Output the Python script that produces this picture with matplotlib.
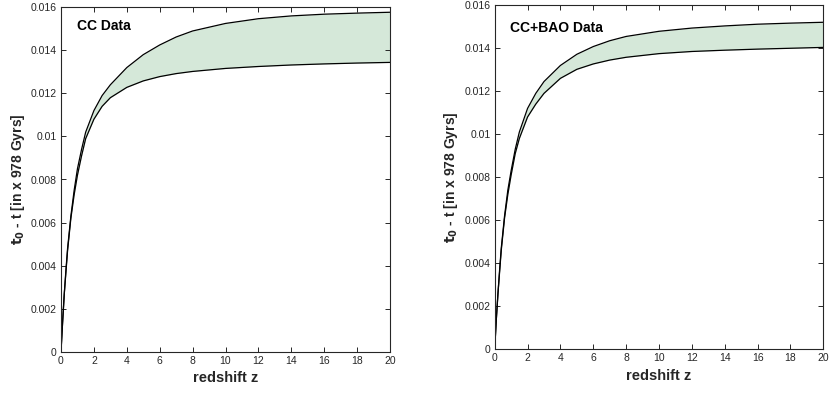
import numpy as np
import matplotlib
matplotlib.use("Agg")
from matplotlib import pyplot as plt

plt.rcParams['font.family'] = ['Liberation Sans', 'DejaVu Sans']

# redshift points and the band edges
z = [0, 0.1, 0.2, 0.3, 0.4, 0.6, 0.8, 1, 1.25, 1.5, 2, 2.5, 3, 4, 5, 6, 7, 8, 10, 12, 14, 16, 18, 20]

cc_upper = [0, 0.0014, 0.0027, 0.0038, 0.0048, 0.0063, 0.0075, 0.0085, 0.0094, 0.0102, 0.0112, 0.0119,
            0.0124, 0.0132, 0.0138, 0.01425, 0.01462, 0.0149, 0.01525, 0.01547, 0.0156, 0.01568,
            0.01573, 0.01577]
cc_lower = [0, 0.0014, 0.0027, 0.0037, 0.0047, 0.0062, 0.0073, 0.0082, 0.0091, 0.0099, 0.0108, 0.0114,
            0.0118, 0.01228, 0.01258, 0.01278, 0.01292, 0.01302, 0.01316, 0.01325, 0.01332, 0.01337,
            0.01341, 0.01344]

bao_upper = [0, 0.0014, 0.0026, 0.0037, 0.0047, 0.0062, 0.0074, 0.0083, 0.0093, 0.0101, 0.0112, 0.0119,
             0.01245, 0.0132, 0.01372, 0.01408, 0.01435, 0.01455, 0.01479, 0.01494, 0.01504, 0.01512,
             0.01517, 0.01521]
bao_lower = [0, 0.0014, 0.0026, 0.0036, 0.0046, 0.0061, 0.0072, 0.0081, 0.0091, 0.0098, 0.0108, 0.0114,
             0.0119, 0.0126, 0.01302, 0.01327, 0.01345, 0.01358, 0.01375, 0.01385, 0.01391, 0.01396,
             0.014, 0.01404]

panels = [
    ("CC Data", cc_upper, cc_lower, [61 / 832, 44.3 / 396, 329 / 832, 344.4 / 396], 0.01513),
    ("CC+BAO Data", bao_upper, bao_lower, [494.7 / 832, 47 / 396, 328.6 / 832, 343.7 / 396], 0.01494),
]

fig = plt.figure(figsize=(8.32, 3.96), dpi=100)
edge = '#262626'

for title, up, lo, rect, ty in panels:
    ax = fig.add_axes(rect)
    ax.fill_between(z, lo, up, color='#d5e8d9', linewidth=0)
    ax.plot(z, up, color='black', linewidth=0.9)
    ax.plot(z, lo, color='black', linewidth=0.9)
    ax.set_xlim(0, 20)
    ax.set_ylim(0, 0.016)
    ax.set_xticks(np.arange(0, 21, 2))
    ax.set_yticks(np.arange(0, 0.0161, 0.002))
    ax.set_yticklabels(['0', '0.002', '0.004', '0.006', '0.008', '0.01', '0.012', '0.014', '0.016'])
    ax.tick_params(direction='in', top=True, right=True, length=3.5, width=0.7,
                   labelsize=7.5, colors=edge, pad=3)
    for s in ax.spines.values():
        s.set_color(edge)
        s.set_linewidth(0.8)
    ax.set_xlabel('redshift z', fontsize=10.5, fontweight='bold', color=edge, labelpad=4)
    ax.set_ylabel(r'$\mathbf{t_0}$ - t [in x 978 Gyrs]', fontsize=10, fontweight='bold',
                  color=edge, labelpad=3)
    ax.text(0.95, ty, title, fontsize=10, fontweight='bold', color='black', va='center')

fig.savefig('out.png', dpi=100)
